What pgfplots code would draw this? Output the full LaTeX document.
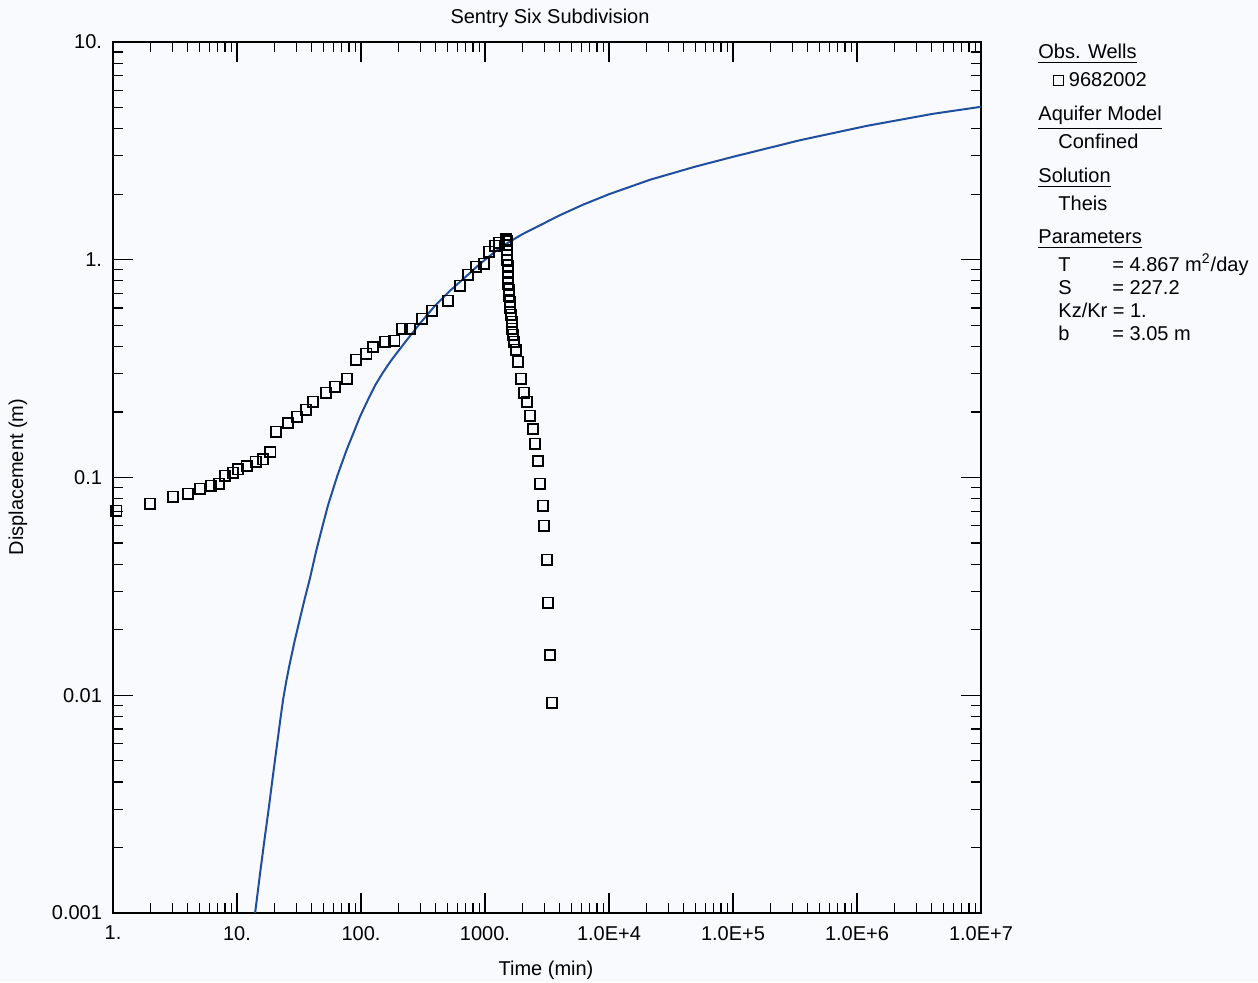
\documentclass[border=0pt]{standalone}
\usepackage{fontspec}
\setmainfont{Liberation Sans}
\usepackage{pgfplots}
\pgfplotsset{compat=1.18}

\definecolor{curveblue}{RGB}{32,78,158}
\definecolor{paper}{RGB}{248,250,253}

% observed drawdown, well 9682002 (pumping then recovery)
\pgfplotstableread{
t s
1.06 0.0704
1.99 0.0757
3.05 0.0816
4.03 0.0842
5.03 0.0888
6.17 0.0917
7.16 0.0936
8.0 0.102
9.29 0.105
10.2 0.109
12.0 0.113
14.2 0.118
16.2 0.121
18.5 0.131
20.6 0.162
25.8 0.178
30.5 0.190
36.0 0.205
41.0 0.223
52.2 0.245
61.7 0.261
77.1 0.284
91.2 0.347
110 0.370
125 0.398
156 0.420
185 0.425
214 0.482
248 0.482
310 0.536
374 0.583
503 0.648
629 0.760
729 0.853
846 0.929
982 0.958
1077 1.09
1205 1.16
1298 1.20
1477 1.24
1504 1.22
1504 1.17
1504 1.11
1504 1.054
1504 1.00
1532 0.938
1532 0.881
1532 0.827
1532 0.776
1563 0.728
1563 0.683
1592 0.641
1592 0.602
1622 0.559
1652 0.519
1652 0.482
1683 0.452
1714 0.420
1778 0.386
1845 0.340
1950 0.284
2065 0.245
2183 0.223
2307 0.192
2438 0.167
2530 0.143
2675 0.119
2779 0.0936
2938 0.0742
2993 0.0600
3162 0.0419
3221 0.0266
3342 0.0153
3467 0.00923
}\obsdata

% Theis type curve as drawn
\pgfplotstableread{
t s
14.0 0.00100
15.3 0.00150
16.8 0.00225
18.0 0.00300
19.2 0.00400
20.3 0.00510
21.4 0.00640
22.4 0.00780
23.5 0.00950
24.9 0.0115
26.3 0.0135
29.0 0.0175
32.2 0.0225
35.3 0.0280
38.8 0.0345
43.5 0.0460
49.4 0.0610
54.0 0.0740
59.4 0.0880
64.5 0.102
70.3 0.117
77.0 0.135
84.6 0.154
98.0 0.190
114 0.228
131 0.267
150 0.303
172 0.340
195 0.374
235 0.429
299 0.510
395 0.615
522 0.721
690 0.830
912 0.958
1205 1.09
1504 1.19
2000 1.31
2779 1.44
4000 1.60
6170 1.79
10000 2.00
21400 2.33
50000 2.68
100000 2.97
347000 3.54
1200000 4.12
4100000 4.68
10000000 5.04
}\theisdata

\begin{document}
\begin{tikzpicture}[font=\fontsize{10}{12}\selectfont]
\fill[paper] (-56.5pt,-34.5pt) rectangle (572.5pt,456.5pt);
\begin{axis}[
  at={(0,0)}, anchor=south west,
  scale only axis, width=434pt, height=435.5pt,
  xmode=log, ymode=log,
  xmin=1, xmax=1e7, ymin=0.001, ymax=10,
  xtick={1,10,100,1000,1e4,1e5,1e6,1e7},
  xticklabels={1.,10.,100.,1000.,1.0E+4,1.0E+5,1.0E+6,1.0E+7},
  ytick={0.001,0.01,0.1,1,10},
  yticklabels={0.001,0.01,0.1,1.,10.},
  tick align=inside,
  major tick length=10pt, minor tick length=5pt,
  every tick/.style={black, line width=0.6pt},
  axis line style={line width=0.9pt},
  xticklabel style={yshift=-3pt},
  yticklabel style={xshift=-2pt},
]
\addplot[curveblue, line width=1pt, line join=round] table[x=t, y=s] {\theisdata};
\addplot[only marks, mark=square, mark size=2.6pt,
  mark options={black, line width=0.8pt, fill=none}] table[x=t, y=s] {\obsdata};
\end{axis}

\node at (218.5pt,447.5pt) {Sentry Six Subdivision};
\node at (216.5pt,-28.5pt) {Time (min)};
\node[rotate=90] at (-47.5pt,218pt) {Displacement (m)};

\node[anchor=base west, inner sep=0pt] at (462.5pt,427pt) {\underline{Obs. Wells}};
\node[anchor=base west, inner sep=0pt] at (470pt,413pt) {\raisebox{0.8pt}{\framebox(5,5){}}\ 9682002};
\node[anchor=base west, inner sep=0pt] at (462.5pt,396pt) {\underline{Aquifer Model}};
\node[anchor=base west, inner sep=0pt] at (472.5pt,382pt) {Confined};
\node[anchor=base west, inner sep=0pt] at (462.5pt,365pt) {\underline{Solution}};
\node[anchor=base west, inner sep=0pt] at (472.5pt,351.5pt) {Theis};
\node[anchor=base west, inner sep=0pt] at (462.5pt,334.5pt) {\underline{Parameters}};
\node[anchor=base west, inner sep=0pt] at (472.5pt,321pt) {T};
\node[anchor=base west, inner sep=0pt] at (499.5pt,321pt) {= 4.867 m\textsuperscript{2}/day};
\node[anchor=base west, inner sep=0pt] at (472.5pt,309.5pt) {S};
\node[anchor=base west, inner sep=0pt] at (499.5pt,309.5pt) {= 227.2};
\node[anchor=base west, inner sep=0pt] at (472.5pt,298pt) {Kz/Kr = 1.};
\node[anchor=base west, inner sep=0pt] at (472.5pt,286.5pt) {b};
\node[anchor=base west, inner sep=0pt] at (499.5pt,286.5pt) {= 3.05 m};

\pgfresetboundingbox
\path[use as bounding box] (-56.5pt,-34.5pt) rectangle (572.5pt,456.5pt);
\end{tikzpicture}
\end{document}
